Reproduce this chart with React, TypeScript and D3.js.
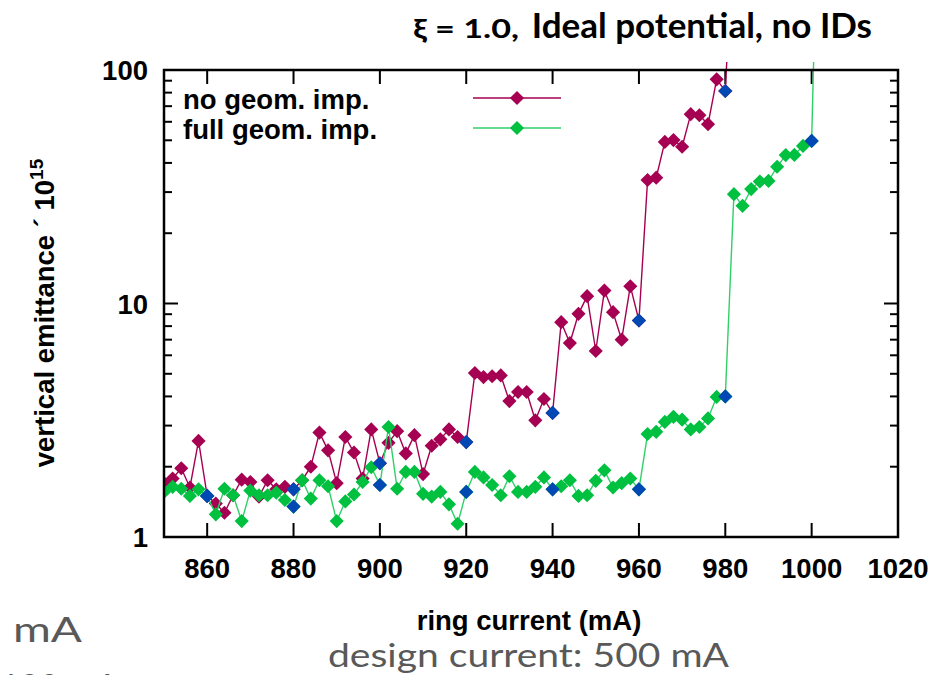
import React from "react";
import * as d3 from "d3";

// ring current (mA)
const currentsNoGeom = [
  850, 852, 854, 856, 858, 860, 862, 864, 866, 868, 870, 872, 874, 876, 878, 880,
  882, 884, 886, 888, 890, 892, 894, 896, 898, 900, 902, 904, 906, 908, 910, 912,
  914, 916, 918, 920, 922, 924, 926, 928, 930, 932, 934, 936, 938, 940, 942, 944,
  946, 948, 950, 952, 954, 956, 958, 960, 962, 964, 966, 968, 970, 972, 974, 976,
  978, 980, 982,
];
// vertical emittance x 1e15, no geometric imperfections
const emitNoGeom = [
  1.7, 1.78, 1.97, 1.63, 2.58, 1.5, 1.39, 1.27, 1.51, 1.76, 1.72, 1.49, 1.75, 1.6, 1.64, 1.6,
  1.75, 2.0, 2.8, 2.35, 1.7, 2.68, 2.3, 1.78, 2.89, 2.07, 2.53, 2.84, 2.28, 2.73, 1.86, 2.46,
  2.62, 2.89, 2.68, 2.55, 5.04, 4.84, 4.88, 4.92, 3.82, 4.18, 4.18, 3.16, 3.9, 3.4, 8.32, 6.77,
  9.03, 10.75, 6.26, 11.36, 9.18, 7.0, 11.86, 8.46, 33.8, 34.6, 49.2, 50.1, 46.9, 64.7, 64.0, 58.6,
  91.2, 81.3, 450,
];
const currentsFullGeom = [
  850, 852, 854, 856, 858, 860, 862, 864, 866, 868, 870, 872, 874, 876, 878, 880,
  882, 884, 886, 888, 890, 892, 894, 896, 898, 900, 902, 904, 906, 908, 910, 912,
  914, 916, 918, 920, 922, 924, 926, 928, 930, 932, 934, 936, 938, 940, 942, 944,
  946, 948, 950, 952, 954, 956, 958, 960, 962, 964, 966, 968, 970, 972, 974, 976,
  978, 980, 982, 984, 986, 988, 990, 992, 994, 996, 998, 1000, 1002,
];
// vertical emittance x 1e15, full geometric imperfections
const emitFullGeom = [
  1.56, 1.64, 1.61, 1.5, 1.6, 1.5, 1.25, 1.61, 1.51, 1.17, 1.58, 1.51, 1.51, 1.55, 1.44, 1.35,
  1.75, 1.46, 1.75, 1.65, 1.17, 1.42, 1.52, 1.72, 1.99, 1.67, 2.96, 1.61, 1.9, 1.9, 1.53, 1.49,
  1.56, 1.38, 1.14, 1.56, 1.9, 1.8, 1.67, 1.51, 1.82, 1.56, 1.56, 1.64, 1.8, 1.6, 1.65, 1.75,
  1.5, 1.51, 1.74, 1.93, 1.63, 1.7, 1.78, 1.6, 2.76, 2.82, 3.11, 3.27, 3.18, 2.89, 2.96, 3.22,
  3.98, 4.0, 29.4, 26.2, 30.9, 33.3, 33.5, 38.5, 43.2, 43.3, 47.3, 49.7, 1600,
];
// currents highlighted with blue markers
const checkpoints = [860, 880, 900, 920, 940, 960, 980, 1000];

const xTicks = [860, 880, 900, 920, 940, 960, 980, 1000, 1020];
const yMajor = [1, 10, 100];
const yMinor = [2, 3, 4, 5, 6, 7, 8, 9, 20, 30, 40, 50, 60, 70, 80, 90];

const seriesNames = ["no geom. imp.", "full geom. imp."];
const titleSymbol = "ξ = 1.0,";
const titleMain = "Ideal potential, no IDs";

const MAGENTA = "#a50052";
const GREEN = "#00c040";
const GREEN_LINE = "#2fd06a";
const BLUE = "#0048b4";

export default function App() {
  const W = 941, H = 675;
  const left = 164, right = 898, top = 70, bottom = 537;
  const x = d3.scaleLinear().domain([850, 1020]).range([left, right]);
  const y = d3.scaleLog().domain([1, 100]).range([bottom, top]);

  const noGeom = currentsNoGeom.map((c, i) => ({ c, v: emitNoGeom[i] }));
  const fullGeom = currentsFullGeom.map((c, i) => ({ c, v: emitFullGeom[i] }));

  const line = d3.line<{ c: number; v: number }>().x((d) => x(d.c)).y((d) => y(d.v));
  const diamond = d3.symbol().type(d3.symbolSquare).size(100)() as string;

  const blues = [
    ...noGeom.filter((d) => checkpoints.includes(d.c)),
    ...fullGeom.filter((d) => checkpoints.includes(d.c)),
  ];

  const font = "'Liberation Sans', Arial, sans-serif";
  const calibri = "Lato, 'Open Sans', sans-serif";
  const fs = 27.5;
  const majLen = 14, minLen = 8;

  const marker = (d: { c: number; v: number }, fill: string, k: string) => (
    <path key={k} d={diamond} fill={fill} transform={`translate(${x(d.c)},${y(d.v)}) rotate(45)`} />
  );

  return (
    <svg width={W} height={H} style={{ position: "absolute", left: 0, top: 0, background: "#fff" }}>
      <defs>
        <clipPath id="plotclip">
          <rect x={left} y={top - 8} width={right - left} height={bottom - top + 8} />
        </clipPath>
      </defs>

      {/* title */}
      <text x={413} y={38} fontFamily={calibri} fontWeight="bold" fontSize={27} fill="#000"
        textLength={106} lengthAdjust="spacingAndGlyphs">{titleSymbol}</text>
      <text x={872} y={38} textAnchor="end" fontFamily={calibri} fontWeight="bold" fontSize={35} fill="#000">
        {titleMain}
      </text>

      {/* ticks */}
      <g stroke="#000" strokeWidth={2}>
        {xTicks.map((t) => (
          <g key={"xt" + t}>
            <line x1={x(t)} x2={x(t)} y1={bottom} y2={bottom - majLen} />
            <line x1={x(t)} x2={x(t)} y1={top} y2={top + majLen} />
          </g>
        ))}
        {yMajor.map((t) => (
          <g key={"ym" + t}>
            <line x1={left} x2={left + majLen} y1={y(t)} y2={y(t)} />
            <line x1={right} x2={right - majLen} y1={y(t)} y2={y(t)} />
          </g>
        ))}
        {yMinor.map((t) => (
          <g key={"yn" + t}>
            <line x1={left} x2={left + minLen} y1={y(t)} y2={y(t)} />
            <line x1={right} x2={right - minLen} y1={y(t)} y2={y(t)} />
          </g>
        ))}
      </g>

      {/* tick labels */}
      <g fontFamily={font} fontWeight="bold" fontSize={fs} fill="#000">
        {xTicks.map((t) => (
          <text key={"xl" + t} x={x(t)} y={578} textAnchor="middle">{t}</text>
        ))}
        {yMajor.map((t) => (
          <text key={"yl" + t} x={148} y={y(t) + 10} textAnchor="end">{t}</text>
        ))}
      </g>

      {/* data */}
      <g clipPath="url(#plotclip)">
        <path d={line(noGeom) as string} fill="none" stroke={MAGENTA} strokeWidth={1.4} />
        {noGeom.map((d, i) => marker(d, MAGENTA, "m" + i))}
        <path d={line(fullGeom) as string} fill="none" stroke={GREEN_LINE} strokeWidth={1.4} />
        {fullGeom.map((d, i) => marker(d, GREEN, "g" + i))}
        {blues.map((d, i) => marker(d, BLUE, "b" + i))}
      </g>

      {/* frame */}
      <rect x={left} y={top} width={right - left} height={bottom - top} fill="none" stroke="#000" strokeWidth={2.5} />

      {/* legend */}
      <g fontFamily={font} fontWeight="bold" fontSize={fs} fill="#000">
        <text x={183} y={109}>{seriesNames[0]}</text>
        <text x={183} y={139}>{seriesNames[1]}</text>
      </g>
      <line x1={473} x2={561} y1={98} y2={98} stroke={MAGENTA} strokeWidth={1.4} />
      <path d={diamond} fill={MAGENTA} transform="translate(517,98) rotate(45)" />
      <line x1={473} x2={561} y1={128} y2={128} stroke={GREEN_LINE} strokeWidth={1.4} />
      <path d={diamond} fill={GREEN} transform="translate(517,128) rotate(45)" />

      {/* axis labels */}
      <text x={529} y={630} textAnchor="middle" fontFamily={font} fontWeight="bold" fontSize={fs} fill="#000">
        ring current (mA)
      </text>
      <text
        transform="translate(54,313) rotate(-90)"
        textAnchor="middle"
        fontFamily={font}
        fontWeight="bold"
        fontSize={fs}
        fill="#000"
      >
        vertical emittance ´ 10<tspan dy={-11} fontSize={19}>15</tspan>
      </text>

      {/* surrounding slide text */}
      <text x={13} y={642} fontFamily={calibri} fontSize={35} fill="#595959"
        textLength={69} lengthAdjust="spacingAndGlyphs">mA</text>
      <text x={0} y={699} fontFamily={calibri} fontSize={34} fill="#595959">100 mA</text>
      <text x={328} y={667} fontFamily={calibri} fontSize={33} fill="#595959"
        textLength={401} lengthAdjust="spacingAndGlyphs">
        design current: 500 mA
      </text>
    </svg>
  );
}
